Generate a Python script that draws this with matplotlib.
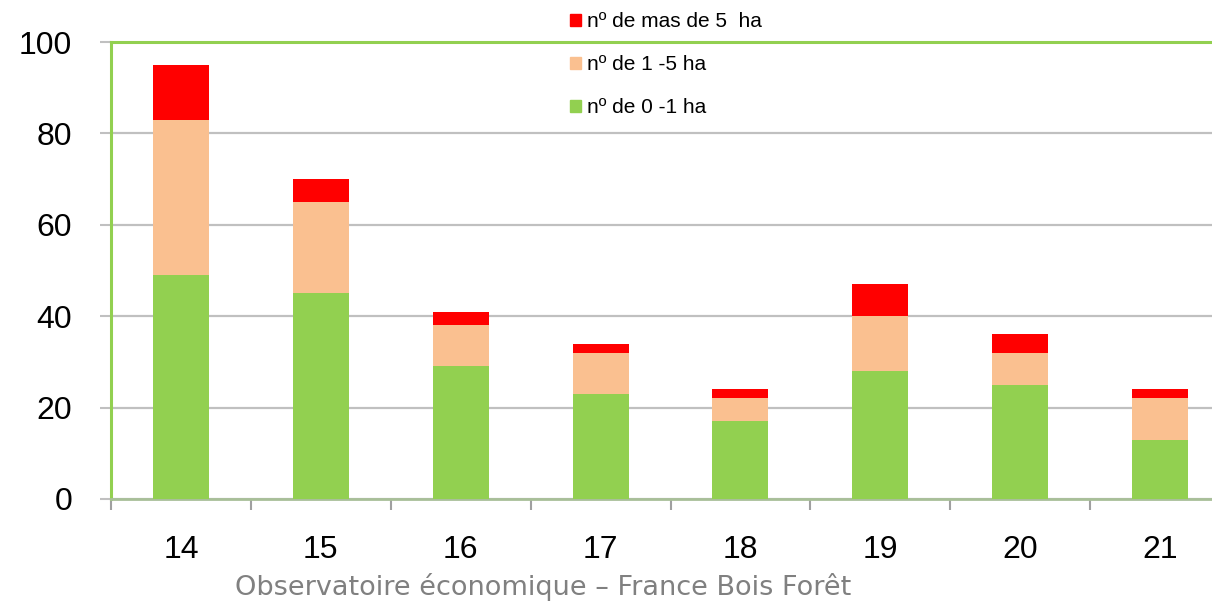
import matplotlib.pyplot as plt
from matplotlib.patches import Patch

# --- Данные ---
years = ['14', '15', '16', '17', '18', '19', '20', '21']
ha_0_1 = [49, 45, 29, 23, 17, 28, 25, 13]
ha_1_5 = [34, 20, 9, 9, 5, 12, 7, 9]
ha_5_plus = [12, 5, 3, 2, 2, 7, 4, 2]

GREEN = '#92D050'
PEACH = '#FAC090'
RED = '#FF0000'
GRID = '#C0C0C0'
FONT = 'Liberation Sans'

fig = plt.figure(figsize=(12.12, 6.01), dpi=100)
ax = fig.add_axes([111 / 1212, 1 - 499 / 601, 1119 / 1212, 457 / 601])

x = list(range(len(years)))
bottom2 = [a + b for a, b in zip(ha_0_1, ha_1_5)]
ax.bar(x, ha_0_1, width=0.4, color=GREEN, zorder=3)
ax.bar(x, ha_1_5, width=0.4, bottom=ha_0_1, color=PEACH, zorder=3)
ax.bar(x, ha_5_plus, width=0.4, bottom=bottom2, color=RED, zorder=3)

ax.set_xlim(-0.5, len(years) - 0.5)
ax.set_ylim(0, 100)
ax.set_yticks([0, 20, 40, 60, 80, 100])
ax.yaxis.grid(True, color=GRID, lw=1.6, zorder=0)
ax.set_axisbelow(True)

# подписи оси X без засечек, засечки на границах категорий
ax.set_xticks(x)
ax.set_xticklabels(years, fontsize=23, fontfamily=FONT)
ax.set_xticks([i - 0.5 for i in range(len(years) + 1)], minor=True)
ax.tick_params(axis='x', which='major', length=0, pad=26)
ax.tick_params(axis='x', which='minor', length=8, width=1.5, color='#A0A0A0')
ax.tick_params(axis='y', length=8, width=1.5, color=GRID, pad=20,
               labelsize=23)
for lbl in ax.get_yticklabels():
    lbl.set_fontfamily(FONT)

for s in ['left', 'top']:
    ax.spines[s].set_color(GREEN)
    ax.spines[s].set_linewidth(2.2)
ax.spines['right'].set_visible(False)
ax.spines['bottom'].set_color('#A8BF98')
ax.spines['bottom'].set_linewidth(2.0)

handles = [Patch(color=RED, label='nº de mas de 5  ha'),
           Patch(color=PEACH, label='nº de 1 -5 ha'),
           Patch(color=GREEN, label='nº de 0 -1 ha')]
leg = fig.legend(handles=handles, loc='upper left',
                 bbox_to_anchor=(562 / 1212, 1 - 4 / 601),
                 frameon=False, prop={'family': FONT, 'size': 15},
                 handlelength=0.5, handleheight=0.5, handletextpad=0.3,
                 labelspacing=1.15, borderaxespad=0)
leg.set_zorder(5)

fig.text(543 / 1212, 1 - 587 / 601, 'Observatoire économique – France Bois Forêt',
         ha='center', va='center', fontsize=19.5, color='#808080',
         fontfamily='DejaVu Sans')

fig.savefig('out.png', dpi=100)
